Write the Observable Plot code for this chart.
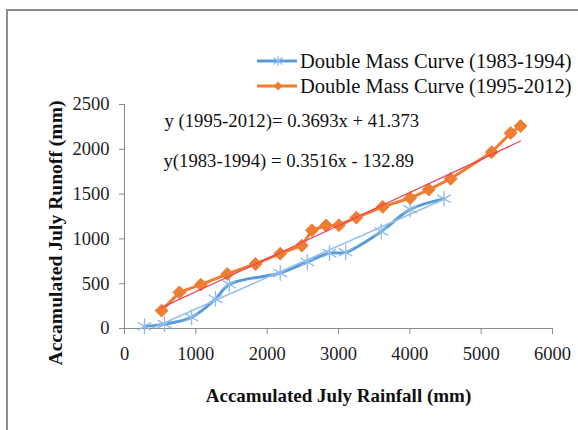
<!DOCTYPE html>
<html>
<head>
<meta charset="utf-8">
<script src="https://cdn.jsdelivr.net/npm/d3@7"></script>
<script src="https://cdn.jsdelivr.net/npm/@observablehq/plot@0.6"></script>
<style>
  html, body { margin: 0; padding: 0; background: #fff; }
  #wrap { position: relative; width: 578px; height: 430px; overflow: hidden; }
  #border { position: absolute; left: 6px; top: 9px; width: 700px; height: 600px;
            border-top: 2px solid #8d8d8d; border-left: 2px solid #8d8d8d; box-sizing: border-box; }
  #chart { position: absolute; left: 0; top: 0; }
  .leg { position: absolute; left: 257px; font-family: "Liberation Serif", serif; font-size: 20.5px;
         color: #111; display: flex; align-items: center; height: 24px; white-space: nowrap; }
  .leg svg { margin-right: 3px; }
  #ylab { position: absolute; left: 56px; top: 233px; width: 0; height: 0; }
  #ylab span { position: absolute; left: 0; top: 0; transform: translate(-50%, -50%) rotate(-90deg);
               font-family: "Liberation Serif", serif; font-weight: bold; font-size: 19.6px; color: #111;
               white-space: nowrap; line-height: 1; }
</style>
</head>
<body>
<div id="wrap">
  <div id="border"></div>
  <div id="chart"></div>
  <div id="ylab"><span id="ylabText"></span></div>
  <div class="leg" style="top:49px"><svg width="40" height="14"><line x1="0" y1="7" x2="40" y2="7" stroke="#5b9bd5" stroke-width="3"/><g stroke="#8dbbe9" stroke-width="1.2"><line x1="21" y1="2" x2="21" y2="12"/><line x1="16.5" y1="3.5" x2="25.5" y2="10.5"/><line x1="25.5" y1="3.5" x2="16.5" y2="10.5"/></g></svg><span>Double Mass Curve (1983-1994)</span></div>
  <div class="leg" style="top:74px"><svg width="40" height="14"><line x1="0" y1="7" x2="40" y2="7" stroke="#ed7d31" stroke-width="3"/><path d="M21 2.5 L25.5 7 L21 11.5 L16.5 7 Z" fill="#ed7d31"/></svg><span>Double Mass Curve (1995-2012)</span></div>
</div>
<script>
// Series 1983-1994 (blue)
const blueRain = [280, 560, 940, 1276, 1470, 2183, 2562, 2873, 3100, 3600, 4005, 4479];
const blueRunoff = [25, 49, 125, 330, 493, 620, 742, 841, 850, 1083, 1330, 1447];
// Series 1995-2012 (orange)
const orangeRain = [520, 770, 1070, 1440, 1837, 2183, 2485, 2628, 2826, 3006, 3250, 3620, 4004, 4265, 4572, 5147, 5414, 5554];
const orangeRunoff = [200, 403, 489, 608, 720, 835, 925, 1097, 1150, 1153, 1237, 1358, 1456, 1550, 1671, 1968, 2181, 2259];
// Trendline equations shown on chart
const blueSlope = 0.3516, blueIntercept = -132.89;
const orangeSlope = 0.3693, orangeIntercept = 41.373;
const equations = ["y (1995-2012)= 0.3693x + 41.373", "y(1983-1994) = 0.3516x - 132.89"];
// Ticks
const xTicks = [0, 1000, 2000, 3000, 4000, 5000, 6000];
const yTicks = [0, 500, 1000, 1500, 2000, 2500];
const xLabel = "Accamulated July Rainfall (mm)";
const yLabel = "Accamulated July Runoff (mm)";

const blue = blueRain.map((x, i) => ({x, y: blueRunoff[i]}));
const orange = orangeRain.map((x, i) => ({x, y: orangeRunoff[i]}));
const trendBlue = [d3.min(blueRain), d3.max(blueRain)].map(x => ({x, y: blueSlope * x + blueIntercept}));
const trendOrange = [d3.min(orangeRain), d3.max(orangeRain)].map(x => ({x, y: orangeSlope * x + orangeIntercept}));

document.getElementById("ylabText").textContent = yLabel;

const axisColor = "#8a8a8a";
const chart = Plot.plot({
  width: 578,
  height: 430,
  marginLeft: 124,
  marginRight: 26,
  marginTop: 104,
  marginBottom: 102,
  x: {domain: [0, 6000]},
  y: {domain: [0, 2500]},
  style: {fontFamily: "Liberation Serif, serif", fontSize: "18px", color: "#222", background: "transparent", overflow: "visible"},
  marks: [
    Plot.ruleY([0], {stroke: axisColor}),
    Plot.ruleX([0], {stroke: axisColor}),
    Plot.axisX({ticks: xTicks, tickFormat: "d", tickSize: 6, tickPadding: 12, stroke: axisColor, label: null, fontSize: 18.5}),
    Plot.axisY({ticks: yTicks, tickFormat: "d", tickSize: 5, tickPadding: 10, stroke: axisColor, label: null, fontSize: 18.5}),
    Plot.line(blue, {x: "x", y: "y", stroke: "#5b9bd5", strokeWidth: 3, curve: "catmull-rom"}),
    Plot.dot(blue, {x: "x", y: "y", symbol: "asterisk", r: 7.5, stroke: "#8dbbe9", strokeWidth: 1.3}),
    Plot.line(orange, {x: "x", y: "y", stroke: "#ed7d31", strokeWidth: 3}),
    Plot.dot(orange, {x: "x", y: "y", symbol: "diamond2", r: 5.8, fill: "#ed7d31", stroke: "#ed7d31", strokeWidth: 1}),
    Plot.line(trendBlue, {x: "x", y: "y", stroke: "#93bfea", strokeWidth: 1.5, clip: true}),
    Plot.line(trendOrange, {x: "x", y: "y", stroke: "#f2435a", strokeWidth: 1.2, clip: true}),
    Plot.text([equations[0]], {frameAnchor: "top-left", textAnchor: "start", lineAnchor: "middle", dx: 40, dy: 17, fontSize: 18.7, fill: "#111"}),
    Plot.text([equations[1]], {frameAnchor: "top-left", textAnchor: "start", lineAnchor: "middle", dx: 39, dy: 57, fontSize: 18.7, fill: "#111"}),
    Plot.text([xLabel], {frameAnchor: "bottom", lineAnchor: "middle", dy: 67, fontSize: 19, fontWeight: "bold", fill: "#111"})
  ]
});
document.getElementById("chart").appendChild(chart);
</script>
</body>
</html>
